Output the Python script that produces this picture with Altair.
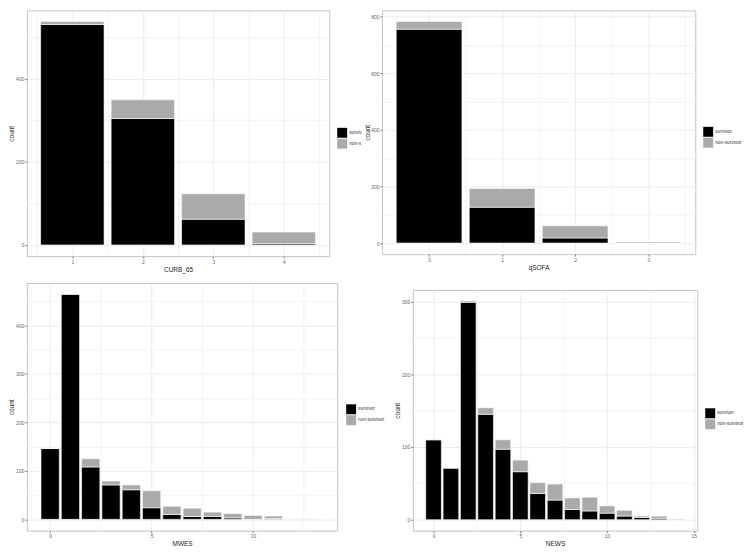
import altair as alt
import pandas as pd

status = ["survivor", "non-survivor"]

curb_x = [1, 2, 3, 4]
curb_surv = [530, 304, 62, 3]
curb_non = [7, 45, 61, 28]

qsofa_x = [0, 1, 2, 3]
qsofa_surv = [756, 127, 18, 0]
qsofa_non = [27, 66, 43, 4]

mwes_x = list(range(14))
mwes_surv = [146, 464, 108, 71, 61, 24, 10, 6, 6, 3, 0, 2, 0, 0]
mwes_non = [0, 0, 17, 8, 10, 35, 17, 17, 9, 9, 8, 5, 1, 1]

news_x = list(range(15))
news_surv = [110, 71, 299, 145, 97, 66, 36, 27, 14, 12, 9, 5, 3, 2, 0]
news_non = [0, 0, 2, 9, 13, 16, 15, 22, 16, 19, 10, 8, 2, 3, 1]

FONT = "Liberation Sans"
GRID = "#ebebeb"


def frange(a, b, step):
    out = []
    v = a
    while v <= b + 1e-9:
        out.append(round(v, 6))
        v += step
    return out


def axis(title, values, major, extent):
    test = f"abs(datum.value % {major}) < 1e-6"
    return alt.Axis(
        title=title,
        values=values,
        labelExpr=f"({test}) ? datum.value : ''",
        labelOverlap=False,
        labelFlush=False,
        tickOpacity={"condition": {"test": test, "value": 1}, "value": 0},
        gridWidth={"condition": {"test": test, "value": 1}, "value": 0.6},
        grid=True,
        gridColor=GRID,
        domain=False,
        tickColor="#555555",
        tickSize=2,
        tickWidth=0.8,
        labelFont=FONT,
        labelFontSize=5,
        labelColor="#666666",
        labelPadding=1,
        minExtent=extent,
        maxExtent=extent,
        titleFont=FONT,
        titleFontSize=6.5,
        titleFontWeight="normal",
        titleColor="#222222",
        titlePadding=2,
    )


def panel(xs, surv, non, xtitle, w, h, xmajor, xminor_step, ymajor, labels, lx, ly):
    rows = []
    for x, s, n in zip(xs, surv, non):
        rows.append({"score": x, "status": "survivor", "count": s, "ord": 0})
        rows.append({"score": x, "status": "non-survivor", "count": n, "ord": 1})
    df = pd.DataFrame(rows)
    totals = [s + n for s, n in zip(surv, non)]
    ymax = max(totals)
    lo, hi = min(xs) - 0.45, max(xs) + 0.45
    span = hi - lo
    xdom = [lo - 0.05 * span, hi + 0.05 * span]
    ydom = [-0.05 * ymax, 1.05 * ymax]
    xvals = [v for v in frange(0, xdom[1], xminor_step) if v >= xdom[0]]
    yvals = frange(0, ydom[1], ymajor / 2)
    legend = alt.Legend(
        title=None,
        orient="none",
        legendX=lx,
        legendY=ly,
        symbolType="square",
        symbolSize=100,
        symbolStrokeWidth=0,
        symbolOpacity=1,
        labelFont=FONT,
        labelFontSize=4.8,
        labelColor="#333333",
        labelOffset=2,
        rowPadding=1,
        labelExpr=f"datum.label == 'survivor' ? '{labels[0]}' : '{labels[1]}'",
    )
    return (
        alt.Chart(df)
        .transform_stack(stack="count", groupby=["score"], as_=["y0", "y1"],
                         sort=[alt.SortField("ord", order="ascending")])
        .transform_calculate(x0="datum.score - 0.45", x1="datum.score + 0.45")
        .mark_bar(stroke="white", strokeWidth=0.6)
        .encode(
            x=alt.X("x0:Q", scale=alt.Scale(domain=xdom, nice=False, zero=False),
                    axis=axis(xtitle, xvals, xmajor, 8)),
            x2="x1:Q",
            y=alt.Y("y1:Q",
                    scale=alt.Scale(domain=ydom, nice=False, zero=False),
                    axis=axis("count", yvals, ymajor, 10)),
            y2="y0:Q",
            color=alt.Color("status:N",
                            scale=alt.Scale(domain=status, range=["#000000", "#aaaaaa"]),
                            legend=legend),
        )
        .properties(width=w, height=h)
    )


A = panel(curb_x, curb_surv, curb_non, "CURB_65", 304, 247, 1, 0.5, 200,
          ["surviv", "non-s"], 312, 118)
B = panel(qsofa_x, qsofa_surv, qsofa_non, "qSOFA", 315, 245, 1, 0.5, 200,
          ["survivor", "non-survivor"], 323, 117)
C = panel(mwes_x, mwes_surv, mwes_non, "MWES", 312, 249, 5, 2.5, 100,
          ["survivor", "non-survivor"], 321, 122)
D = panel(news_x, news_surv, news_non, "NEWS", 286, 242, 5, 2.5, 100,
          ["survivor", "non-survivor"], 294, 119)

spacer = (
    alt.Chart(pd.DataFrame({"v": [0]}))
    .mark_point(opacity=0, size=1)
    .encode(x=alt.value(0), y=alt.value(0))
    .properties(width=1, height=5, view=alt.ViewBackground(stroke="transparent"))
)

right_bottom = alt.vconcat(spacer, D, spacing=0).resolve_scale(
    color="independent", x="independent", y="independent")

top = alt.hconcat(A, B, spacing=0).resolve_scale(color="independent", x="independent", y="independent")
bottom = alt.hconcat(C, right_bottom, spacing=8).resolve_scale(color="independent", x="independent", y="independent")

chart = (
    alt.vconcat(top, bottom, spacing=9)
    .resolve_scale(color="independent", x="independent", y="independent")
    .configure_view(stroke="#c4c4c4", strokeWidth=1)
    .properties(padding={"left": 0, "top": 0, "right": 0, "bottom": 0}, background="white")
)

chart.save("out.html", embed_options={"renderer": "svg", "actions": False})
